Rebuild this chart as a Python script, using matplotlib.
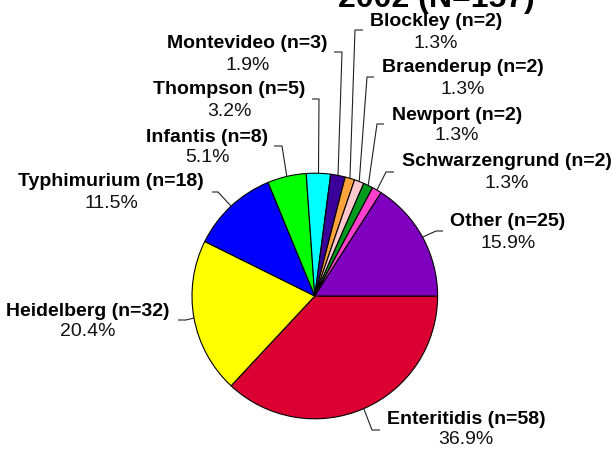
import matplotlib
matplotlib.use("Agg")
import matplotlib.pyplot as plt

plt.rcParams['font.family'] = ['Liberation Sans', 'DejaVu Sans']

title = "2002 (N=157)"
serotypes = ["Enteritidis", "Heidelberg", "Typhimurium", "Infantis", "Thompson",
             "Montevideo", "Blockley", "Braenderup", "Newport", "Schwarzengrund", "Other"]
counts = [58, 32, 18, 8, 5, 3, 2, 2, 2, 2, 25]
colors = ["#DC0032", "#FFFF00", "#0000FF", "#00FF00", "#00FFFF",
          "#3A0099", "#FFA43C", "#FFC8CC", "#009A1E", "#FF40CC", "#8000C0"]

# layout (pixel coordinates from top-left): label centre x, name y, pct y, elbow, end
label_pos = {
    "Enteritidis":    (466, 419, 439, (372, 430), (380, 430)),
    "Heidelberg":     (88, 311, 332, (186, 320), (178, 320)),
    "Typhimurium":    (111, 182, 204, (218, 192), (212, 192)),
    "Infantis":       (207, 137, 158, (282, 146), (274, 146)),
    "Thompson":       (229.5, 90, 112, (319, 99), (312, 99)),
    "Montevideo":     (247.5, 43, 65, (342, 52), (334, 52)),
    "Blockley":       (436, 22, 43, (355, 30), (363, 30)),
    "Braenderup":     (463, 68, 90, (367, 77), (374, 77)),
    "Newport":        (457, 115, 136, (377, 124), (384, 124)),
    "Schwarzengrund": (507, 162, 183, (386, 172), (394, 172)),
    "Other":          (508, 222, 243, (436, 231), (443, 231)),
}

W, H = 613, 450
fig = plt.figure(figsize=(W / 100, H / 100), dpi=100)
ax = fig.add_axes([0, 0, 1, 1])

cx, cy, R = 314.8, H - 296.0, 122.8
wedges, _ = ax.pie(counts, colors=colors, startangle=0, counterclock=False,
                   radius=R, center=(cx, cy),
                   wedgeprops=dict(edgecolor="black", linewidth=0.8))
ax.set_xlim(0, W)
ax.set_ylim(0, H)
ax.set_aspect('equal')
ax.axis('off')

import numpy as np
total = sum(counts)
for w, name, c in zip(wedges, serotypes, counts):
    tx, ny, py, elbow, end = label_pos[name]
    mid = np.deg2rad((w.theta1 + w.theta2) / 2)
    sx = cx + R * np.cos(mid)
    sy = cy + R * np.sin(mid)
    xs = [sx, elbow[0], end[0]]
    ys = [sy, H - elbow[1], H - end[1]]
    ax.plot(xs, ys, color="#202020", linewidth=0.8, solid_capstyle='butt')
    ax.text(tx, H - ny, f"{name} (n={c})", ha='center', va='center',
            fontsize=14, fontweight='bold', color='black')
    ax.text(tx, H - py, f"{100 * c / total:.1f}%", ha='center', va='center',
            fontsize=14, color='#111111')

fig.text(436 / W, 1 - 7 / H, title, ha='center', va='baseline',
         fontsize=23, fontweight='bold')

fig.savefig("out.png", dpi=100)
